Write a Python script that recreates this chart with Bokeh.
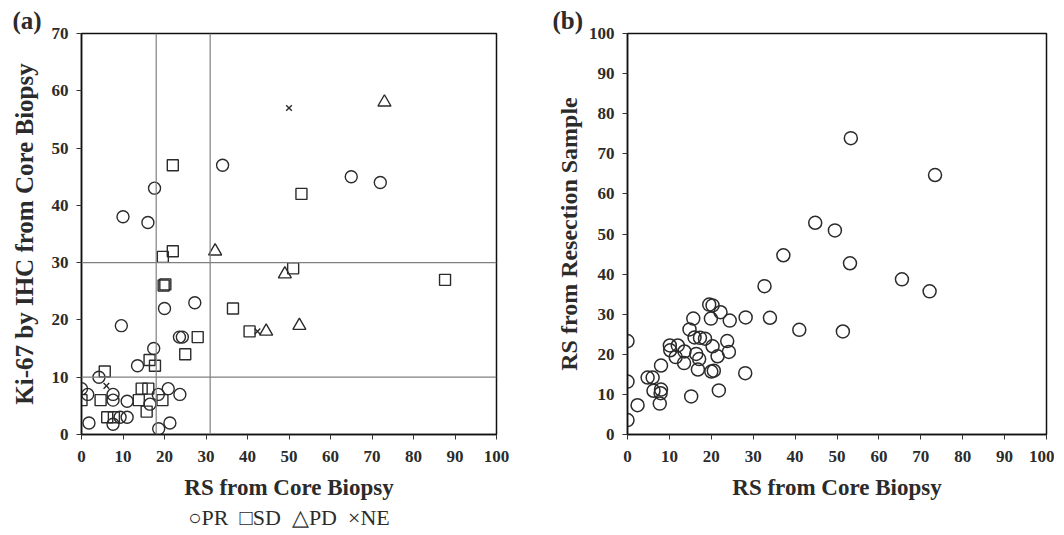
from bokeh.plotting import figure
from bokeh.layouts import row
from bokeh.models import Span, Range1d, FixedTicker, Title
from bokeh.embed import file_html
from bokeh.resources import INLINE

# ---- Panel (a) data: Ki-67 vs RS from core biopsy, by response group ----
pr_x = [34, 17.6, 10, 16, 65, 72, 27.3, 20, 9.6, 23.6, 24.3, 17.4, 13.5, 4.2, 0, 1.5,
        7.6, 7.6, 11, 9.3, 11, 7.6, 1.8, 16.5, 18.5, 20.9, 23.7, 18.6, 21.3]
pr_y = [47, 43, 38, 37, 45, 44, 23, 22, 19, 17, 17, 15, 12, 10, 8, 7,
        7, 6, 5.8, 3, 3, 1.8, 2, 5.3, 7, 8, 7, 1, 2]
sd_x = [22, 53, 19.6, 22, 19.8, 20.2, 36.5, 40.5, 28, 25, 16.4, 17.7, 5.6, 0, 4.6, 6.2,
        7.8, 13.8, 14.5, 16.1, 15.7, 19.5, 51, 87.6]
sd_y = [47, 42, 31, 32, 26, 26.2, 22, 18, 17, 14, 13, 12, 11, 6, 6, 3,
        3, 6, 8, 8, 4, 6, 29, 27]
pd_x = [73, 32.2, 49, 44.5, 52.5]
pd_y = [58, 32, 28, 18, 19]
ne_x = [50, 42.4, 6]
ne_y = [57, 18, 8.5]
cut_x = [18, 31]
cut_y = [10, 30]
GAP = "\u00a0 "
legend_text = "\u25cbPR" + GAP + "\u25a1SD" + GAP + "\u25b3PD" + GAP + "\u00d7NE"

# ---- Panel (b) data: RS resection vs RS core biopsy ----
b_x = [0, 0, 0, 2.4, 4.8, 6.0, 6.2, 8.0, 7.9, 7.7, 8.0, 10.1, 10.2, 12, 11.5, 13.6, 13.5,
       15.2, 14.8, 15.7, 16, 17.3, 18.5, 16.4, 17.1, 16.8, 19.5, 20.3, 19.9, 22.2, 24.4,
       20.3, 21.5, 23.8, 24.2, 20, 20.6, 21.8, 28.2, 28.1, 32.7, 34, 37.2, 41, 44.8, 49.5,
       53.3, 73.4, 53.1, 65.5, 72.1, 51.4]
b_y = [23.3, 13.2, 3.6, 7.3, 14.2, 14.2, 10.9, 11.2, 10.3, 7.7, 17.2, 22.2, 21, 22.2, 19.3,
       20.7, 17.8, 9.5, 26.2, 28.9, 24.2, 24.1, 23.9, 20.1, 18.8, 16.2, 32.4, 32.2, 28.9,
       30.5, 28.4, 22, 19.5, 23.3, 20.6, 15.7, 15.9, 11, 29.2, 15.3, 37, 29.1, 44.7, 26.1,
       52.8, 50.9, 73.9, 64.7, 42.7, 38.7, 35.7, 25.7]

x_ticks = list(range(0, 101, 10))
ya_ticks = list(range(0, 71, 10))
yb_ticks = list(range(0, 101, 10))

FONT = "Liberation Serif"
INK = "#2b2b2b"


def style(p, xt, yt, xlabel, ylabel, ysize, ystand):
    p.xgrid.visible = False
    p.ygrid.visible = False
    p.outline_line_color = "#111111"
    p.outline_line_width = 1.5
    p.xaxis.ticker = FixedTicker(ticks=xt)
    p.yaxis.ticker = FixedTicker(ticks=yt)
    for ax in (p.xaxis[0], p.yaxis[0]):
        ax.axis_line_color = "#111111"
        ax.axis_line_width = 1.5
        ax.major_tick_line_color = "#333333"
        ax.major_tick_out = 5
        ax.major_tick_in = 0
        ax.minor_tick_line_color = None
        ax.major_label_text_font = FONT
        ax.major_label_text_font_style = "bold"
        ax.major_label_text_font_size = "17px"
        ax.major_label_text_color = INK
        ax.axis_label_text_font = FONT
        ax.axis_label_text_font_style = "bold"
        ax.axis_label_text_color = INK
    p.xaxis.major_label_standoff = 11
    p.yaxis.major_label_standoff = 8
    p.xaxis.axis_label = xlabel
    p.yaxis.axis_label = ylabel
    p.xaxis.axis_label_text_font_size = "23px"
    p.yaxis.axis_label_text_font_size = ysize
    p.xaxis.axis_label_standoff = 10
    p.yaxis.axis_label_standoff = ystand


def panel_tag(text, offset):
    return Title(text=text, align="left", offset=offset, standoff=0,
                 text_font=FONT, text_font_style="bold", text_font_size="25px",
                 text_color=INK)


pa = figure(width=528, height=534, x_range=Range1d(0, 100), y_range=Range1d(0, 70),
            output_backend="svg", toolbar_location=None, title=None,
            min_border_left=81, min_border_right=32, min_border_top=33, min_border_bottom=100)
style(pa, x_ticks, ya_ticks, "RS from Core Biopsy", "Ki-67 by IHC from Core Biopsy", "25px", 11)
pa.add_layout(panel_tag("(a)", -69), "above")

for v in cut_x:
    pa.add_layout(Span(location=v, dimension="height", line_color="#808080", line_width=1.2))
for v in cut_y:
    pa.add_layout(Span(location=v, dimension="width", line_color="#808080", line_width=1.2))

pa.scatter(pr_x, pr_y, marker="circle", size=12, fill_color=None, line_color=INK, line_width=1.4)
pa.scatter(sd_x, sd_y, marker="square", size=11, fill_color=None, line_color=INK, line_width=1.4)
pa.scatter(pd_x, pd_y, marker="triangle", size=13, fill_color=None, line_color=INK, line_width=1.4)
pa.scatter(ne_x, ne_y, marker="x", size=8, line_color=INK, line_width=1.4)

pa.add_layout(Title(text=legend_text, align="center", standoff=0, text_font=FONT,
                    text_font_style="normal", text_font_size="22px", text_color=INK),
              "below")

pb = figure(width=526, height=534, x_range=Range1d(0, 100), y_range=Range1d(0, 100),
            output_backend="svg", toolbar_location=None, title=None,
            min_border_left=99, min_border_right=8, min_border_top=33, min_border_bottom=100)
style(pb, x_ticks, yb_ticks, "RS from Core Biopsy", "RS from Resection Sample", "24px", 4)
pb.add_layout(panel_tag("(b)", -75), "above")
pb.scatter(b_x, b_y, marker="circle", size=13, fill_color=None, line_color=INK, line_width=1.5)

layout = row(pa, pb)
open("out.html", "w").write(file_html(layout, INLINE))
